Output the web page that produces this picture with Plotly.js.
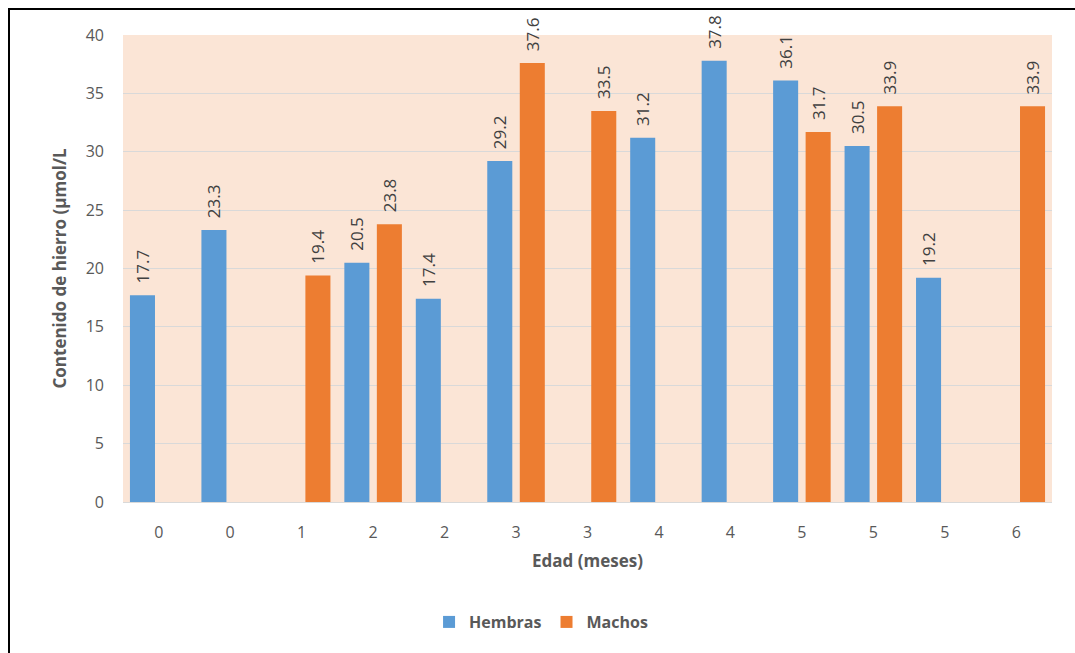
<!DOCTYPE html>
<html>
<head>
<meta charset="utf-8">
<script src="https://cdn.plot.ly/plotly-3.0.1.min.js"></script>
<style>
html,body{margin:0;padding:0;background:#fff;}
#wrap{position:relative;width:1075px;height:653px;overflow:hidden;}
#chart{position:absolute;left:0;top:0;width:1075px;height:653px;}
#bl{position:absolute;left:8px;top:8px;width:2px;height:700px;background:#000;}
#bt{position:absolute;left:8px;top:8px;width:1100px;height:2px;background:#000;}
</style>
</head>
<body>
<div id="wrap"><div id="chart"></div><div id="bl"></div><div id="bt"></div></div>
<script>
const categories = ['0','0','1','2','2','3','3','4','4','5','5','5','6'];
const hembras = [17.7, 23.3, null, 20.5, 17.4, 29.2, null, 31.2, 37.8, 36.1, 30.5, 19.2, null];
const machos  = [null, null, 19.4, 23.8, null, 37.6, 33.5, null, null, 31.7, 33.9, null, 33.9];
const yTicks = [0,5,10,15,20,25,30,35,40];

const xpos = categories.map((c,i)=>i);
const fmt = arr => arr.map(v => v===null ? '' : '\u00a0\u00a0' + v.toFixed(1));
const font = 'Open Sans, Liberation Sans, sans-serif';

const traces = [
  {type:'bar', name:'<b>Hembras</b>', x:xpos, y:hembras, text:fmt(hembras),
   marker:{color:'#5B9BD5'}, textposition:'outside', textangle:-90, cliponaxis:false,
   constraintext:'none',
   textfont:{family:font, size:17, color:'#404040'}, hoverinfo:'y'},
  {type:'bar', name:'<b>Machos</b>', x:xpos, y:machos, text:fmt(machos),
   marker:{color:'#ED7D31'}, textposition:'outside', textangle:-90, cliponaxis:false,
   constraintext:'none',
   textfont:{family:font, size:17, color:'#404040'}, hoverinfo:'y'}
];

const layout = {
  width:1075, height:653,
  margin:{l:123, r:23, t:35, b:151},
  paper_bgcolor:'rgba(0,0,0,0)',
  plot_bgcolor:'#FBE5D6',
  barmode:'group', bargap:0.09, bargroupgap:0.23,
  font:{family:font, color:'#595959'},
  xaxis:{
    tickvals:xpos, ticktext:categories, range:[-0.5, categories.length-0.5],
    showgrid:false, zeroline:false, showline:true, linecolor:'#d9d9d9', linewidth:1,
    ticks:'', ticklabelstandoff:16, tickfont:{size:16, color:'#595959'},
    title:{text:'<b>Edad (meses)</b>', font:{size:17, color:'#595959'}, standoff:12},
    fixedrange:true
  },
  yaxis:{
    range:[0,40], tickvals:yTicks, showgrid:true, gridcolor:'#d9d9d9', gridwidth:1,
    zeroline:false, showline:false, ticks:'', ticklabelstandoff:18,
    tickfont:{size:16, color:'#595959'},
    title:{text:'<b>Contenido de hierro (µmol/L</b>', font:{size:17, color:'#595959'}, standoff:14},
    fixedrange:true
  },
  showlegend:true,
  legend:{orientation:'h', x:0.45, xanchor:'center', y:-0.257, yanchor:'middle',
    font:{size:16, color:'#595959'}, traceorder:'normal', itemwidth:30},
  uniformtext:{mode:false}
};

Plotly.newPlot('chart', traces, layout, {displayModeBar:false, staticPlot:true});
</script>
</body>
</html>
